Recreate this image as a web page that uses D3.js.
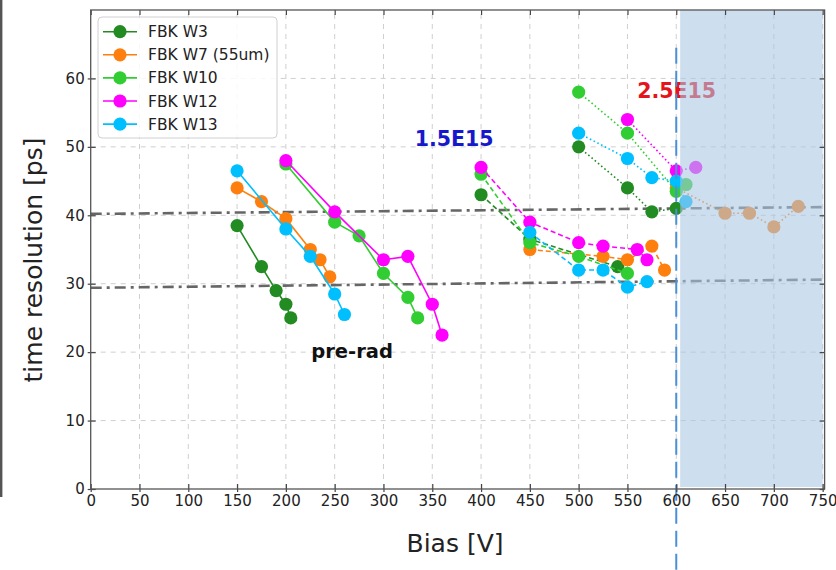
<!DOCTYPE html>
<html>
<head>
<meta charset="utf-8">
<script src="https://cdn.jsdelivr.net/npm/d3@7"></script>
<style>
  html, body { margin: 0; padding: 0; background: #fff; }
  svg { display: block; font-family: "DejaVu Sans", sans-serif; }
</style>
</head>
<body>
<svg id="chart" width="836" height="570"></svg>
<script>
// Series names and colours
const seriesNames = ["FBK W3", "FBK W7 (55um)", "FBK W10", "FBK W12", "FBK W13"];
const seriesColors = ["#228b22", "#ff7f0e", "#32cd32", "#ff00ff", "#00bfff"];

// [bias V, time resolution ps] — pre-irradiation
const w3PreRad  = [[150, 38.5], [175, 32.5], [190, 29], [200, 27], [205, 25]];
const w7PreRad  = [[150, 44], [175, 42], [200, 39.5], [225, 35], [235, 33.5], [245, 31]];
const w10PreRad = [[200, 47.5], [250, 39], [275, 37], [300, 31.5], [325, 28], [335, 25]];
const w12PreRad = [[200, 48], [250, 40.5], [300, 33.5], [325, 34], [350, 27], [360, 22.5]];
const w13PreRad = [[150, 46.5], [200, 38], [225, 34], [250, 28.5], [260, 25.5]];

// fluence 1.5E15
const w3Fl15  = [[400, 43], [450, 36.5], [540, 32.5]];
const w7Fl15  = [[450, 35], [525, 34], [550, 33.5], [575, 35.5], [588, 32]];
const w10Fl15 = [[400, 46], [450, 36], [500, 34], [550, 31.5]];
const w12Fl15 = [[400, 47], [450, 39], [500, 36], [525, 35.5], [560, 35], [570, 33.5]];
const w13Fl15 = [[450, 37.5], [500, 32], [525, 32], [550, 29.5], [570, 30.3]];

// fluence 2.5E15
const w3Fl25  = [[500, 50], [550, 44], [575, 40.5], [600, 41]];
const w7Fl25  = [[600, 44], [650, 40.3], [675, 40.3], [700, 38.3], [725, 41.3]];
const w10Fl25 = [[500, 58], [550, 52], [600, 43.5], [610, 44.5]];
const w12Fl25 = [[550, 54], [600, 46.5], [620, 47]];
const w13Fl25 = [[500, 52], [550, 48.3], [575, 45.5], [600, 45], [610, 42]];

// Axis ticks
const xTicks = d3.range(0, 751, 50);
const yTicks = d3.range(0, 61, 10);

// Reference levels (resolution at 0 V and at 750 V)
const refLineStart = [40.2, 29.4];
const refLineEnd   = [41.2, 30.6];

// Annotations
const annoText = ["1.5E15", "2.5E15", "pre-rad"];
const annoAt   = [[332, 50.1], [560, 57.2], [226, 19.1]];   // [bias, res] of text start/baseline
const annoColor = ["#1717cc", "#e5141c", "#111"];

// Beyond-limit region and marker
const limitBias = 600;
const shadeFrom = 604, shadeTo = 750;

const svg = d3.select("#chart");
const x = d3.scaleLinear().domain([0, 752]).range([90.7, 824.6]);
const y = d3.scaleLinear().domain([0, 70]).range([489, 10]);
const X0 = x(0), X1 = x(752), Y0 = y(0), Y1 = y(70);

// screen-edge rule on the far left
svg.append("line").attr("x1", 1.2).attr("x2", 1.2).attr("y1", 0).attr("y2", 497)
  .attr("stroke", "#555").attr("stroke-width", 2.4);

// grid
const grid = svg.append("g");
grid.selectAll("line.gx").data(xTicks.slice(1)).join("line")
  .attr("x1", d => x(d)).attr("x2", d => x(d)).attr("y1", Y0).attr("y2", Y1)
  .attr("stroke", "#cfcfcf").attr("stroke-width", 1).attr("stroke-dasharray", "5,5");
grid.selectAll("line.gy").data(yTicks.slice(1)).join("line")
  .attr("x1", X0).attr("x2", X1).attr("y1", d => y(d)).attr("y2", d => y(d))
  .attr("stroke", "#cfcfcf").attr("stroke-width", 1).attr("stroke-dasharray", "5,5");

// dash-dot reference levels
svg.append("g").selectAll("line").data(refLineStart).join("line")
  .attr("x1", x(0)).attr("x2", x(750))
  .attr("y1", d => y(d)).attr("y2", (d, i) => y(refLineEnd[i]))
  .attr("stroke", "#666").attr("stroke-width", 2.6).attr("stroke-dasharray", "11,5,3,5");

// data
const groups = [
  { sets: [w3PreRad, w7PreRad, w10PreRad, w12PreRad, w13PreRad], dash: null },
  { sets: [w3Fl15, w7Fl15, w10Fl15, w12Fl15, w13Fl15], dash: "5,3" },
  { sets: [w3Fl25, w7Fl25, w10Fl25, w12Fl25, w13Fl25], dash: "1.6,2.6" }
];
const line = d3.line().x(d => x(d[0])).y(d => y(d[1]));
const dataG = svg.append("g");
groups.forEach(g => {
  g.sets.forEach((pts, i) => {
    const s = dataG.append("g");
    s.append("path").attr("d", line(pts)).attr("fill", "none")
      .attr("stroke", seriesColors[i]).attr("stroke-width", 1.6)
      .attr("stroke-dasharray", g.dash);
    s.selectAll("circle").data(pts).join("circle")
      .attr("cx", d => x(d[0])).attr("cy", d => y(d[1])).attr("r", 6.6)
      .attr("fill", seriesColors[i]);
  });
});

// annotations
svg.append("g").selectAll("text").data(annoText).join("text")
  .attr("x", (d, i) => x(annoAt[i][0])).attr("y", (d, i) => y(annoAt[i][1]))
  .attr("fill", (d, i) => annoColor[i])
  .attr("font-weight", "bold")
  .attr("font-size", (d, i) => i === 2 ? 19.5 : 20.5)
  .text(d => d);

// shaded region above the limit
svg.append("rect")
  .attr("x", x(shadeFrom)).attr("y", Y1)
  .attr("width", x(shadeTo) - x(shadeFrom)).attr("height", Y0 - Y1 - 2)
  .attr("fill", "rgb(168,199,228)").attr("fill-opacity", 0.58);

// vertical limit marker
svg.append("line")
  .attr("x1", x(limitBias)).attr("x2", x(limitBias))
  .attr("y1", y(64.5)).attr("y2", 570)
  .attr("stroke", "#4a8fd8").attr("stroke-width", 2).attr("stroke-dasharray", "16,7");

// axes
const axG = svg.append("g").attr("font-family", "DejaVu Sans, sans-serif");
axG.append("g").attr("transform", `translate(0,${Y0})`)
  .call(d3.axisBottom(x).tickValues(xTicks).tickSize(3).tickPadding(3));
axG.append("g").attr("transform", `translate(${X0},0)`)
  .call(d3.axisLeft(y).tickValues(yTicks).tickSize(3).tickPadding(3));
axG.append("g").attr("transform", `translate(0,${Y0})`)
  .call(d3.axisBottom(x).tickValues(xTicks).tickSize(-5).tickFormat(""));
axG.append("g").attr("transform", `translate(${X0},0)`)
  .call(d3.axisLeft(y).tickValues(yTicks).tickSize(-5).tickFormat(""));
axG.append("g").attr("transform", `translate(0,${Y1})`)
  .call(d3.axisTop(x).tickValues(xTicks).tickSize(-5).tickFormat(""));
axG.append("g").attr("transform", `translate(${X1},0)`)
  .call(d3.axisRight(y).tickValues(yTicks).tickSize(-5).tickFormat(""));
axG.selectAll(".domain").remove();
axG.selectAll(".tick line").attr("stroke", "#444").attr("stroke-width", 1.2);
axG.selectAll(".tick text").attr("fill", "#222").attr("font-size", 15)
  .attr("font-family", "DejaVu Sans, sans-serif");

// frame
svg.append("rect").attr("x", X0).attr("y", Y1).attr("width", X1 - X0).attr("height", Y0 - Y1)
  .attr("fill", "none").attr("stroke", "#555").attr("stroke-width", 1.3);

// axis titles
svg.append("text").attr("x", 455).attr("y", 552).attr("text-anchor", "middle")
  .attr("font-size", 25).attr("fill", "#222").text("Bias [V]");
svg.append("text").attr("transform", "translate(42,260) rotate(-90)")
  .attr("text-anchor", "middle").attr("font-size", 25).attr("fill", "#222")
  .text("time resolution [ps]");

// legend
const lg = svg.append("g");
lg.append("rect").attr("x", 98).attr("y", 17).attr("width", 179).attr("height", 121)
  .attr("rx", 4).attr("fill", "#fff").attr("fill-opacity", 0.85)
  .attr("stroke", "#d0d0d0").attr("stroke-width", 1);
const rows = lg.selectAll("g.row").data(seriesNames).join("g")
  .attr("transform", (d, i) => `translate(0,${31.7 + i * 23.1})`);
rows.append("line").attr("x1", 103).attr("x2", 137).attr("y1", 0).attr("y2", 0)
  .attr("stroke", (d, i) => seriesColors[i]).attr("stroke-width", 1.6);
rows.append("circle").attr("cx", 120).attr("cy", 0).attr("r", 6.6)
  .attr("fill", (d, i) => seriesColors[i]);
rows.append("text").attr("x", 148).attr("y", 0).attr("dy", "0.36em")
  .attr("font-size", 15.5).attr("fill", "#222").text(d => d);
</script>
</body>
</html>
